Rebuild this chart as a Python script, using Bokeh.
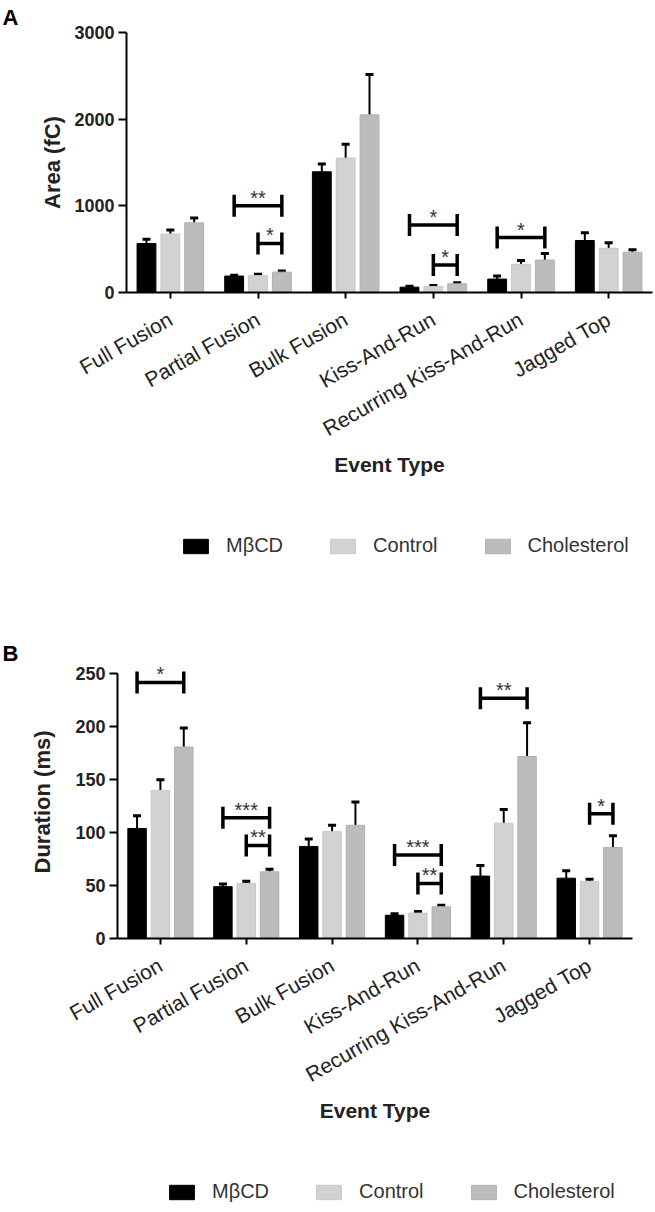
import math
from bokeh.plotting import figure
from bokeh.models import (ColumnDataSource, Whisker, TeeHead, Legend, LegendItem,
                          FixedTicker, LabelSet, Range1d)
from bokeh.core.properties import value
from bokeh.embed import file_html
from bokeh.resources import INLINE

# ---------------- data ----------------
categories = ["Full Fusion", "Partial Fusion", "Bulk Fusion", "Kiss-And-Run",
              "Recurring Kiss-And-Run", "Jagged Top"]
series = ["M\u03b2CD", "Control", "Cholesterol"]

area_ticks = [0, 1000, 2000, 3000]
area_mbcd = [565, 190, 1393, 62, 155, 600]
area_mbcd_err = [50, 10, 90, 10, 35, 90]
area_control = [675, 195, 1551, 70, 325, 510]
area_control_err = [45, 15, 160, 12, 45, 65]
area_chol = [804, 235, 2050, 100, 375, 465]
area_chol_err = [55, 12, 465, 12, 75, 28]

area_sig_cat = [1, 1, 3, 3, 4]
area_sig_from = [0, 1, 0, 1, 0]
area_sig_to = [2, 2, 2, 2, 2]
area_sig_y = [1000, 566, 780, 317, 634]
area_sig_text = ["**", "*", "*", "*", "*"]

dur_ticks = [0, 50, 100, 150, 200, 250]
dur_mbcd = [104, 49, 87, 22, 59, 57]
dur_mbcd_err = [12, 2.5, 7, 1.5, 10, 7]
dur_control = [140, 52, 101, 24, 109, 54]
dur_control_err = [10, 2, 6, 1.5, 13, 2]
dur_chol = [181, 63, 107, 30, 172, 86]
dur_chol_err = [18, 2.5, 22, 1.5, 32, 11]

dur_sig_cat = [0, 1, 1, 3, 3, 4, 5]
dur_sig_from = [0, 0, 1, 0, 1, 0, 1]
dur_sig_to = [2, 2, 2, 2, 2, 2, 2]
dur_sig_y = [242, 114, 88, 79, 52, 227, 118]
dur_sig_text = ["*", "***", "**", "***", "**", "**", "*"]

# ---------------- style ----------------
FONT = "Liberation Sans"
FILLS = ["#000000", "#d2d2d2", "#bcbcbc"]
LINES = ["#000000", "#c8c8c8", "#b0b0b0"]
OFFS = [-0.272, 0.0, 0.272]
BAR_W = 0.215
FIG_W = 655


def make_panel(letter, ylabel, ylabel_standoff, yticks, yend, vals, errs, sig,
               fig_top, fig_h, fl, fr, ft, fb, letter_offset, letter_standoff,
               xlabel_standoff):
    ymax = yticks[-1]
    pxy = (fb - ft) / float(ymax)
    frame_top = fb - yend * pxy
    p = figure(width=FIG_W, height=fig_h,
               x_range=Range1d(-0.5, 5.5), y_range=Range1d(0, yend),
               output_backend="svg", toolbar_location=None,
               min_border_left=fl, min_border_right=FIG_W - fr,
               min_border_top=int(round(frame_top - fig_top)),
               min_border_bottom=fig_top + fig_h - fb)
    p.grid.visible = False
    p.outline_line_color = None
    p.background_fill_color = "white"
    p.border_fill_color = "white"

    # panel letter as the plot title
    p.title.text = letter
    p.title.align = "left"
    p.title.offset = letter_offset
    p.title.standoff = letter_standoff
    p.title.text_font = FONT
    p.title.text_font_size = "22px"
    p.title.text_font_style = "bold"
    p.title.text_color = "black"

    for s in range(3):
        xs = [i + OFFS[s] for i in range(len(categories))]
        p.vbar(x=xs, top=vals[s], width=BAR_W, fill_color=FILLS[s],
               line_color=LINES[s], line_width=1)
        src = ColumnDataSource(dict(x=xs, lo=vals[s],
                                    hi=[v + e for v, e in zip(vals[s], errs[s])]))
        w = Whisker(base="x", lower="lo", upper="hi", source=src,
                    line_color="black", line_width=2, lower_head=None,
                    upper_head=TeeHead(size=8, line_width=3, line_color="black"))
        p.add_layout(w)

    cat, fr_, to_, ys, txt = sig
    x0 = [c + OFFS[a] for c, a in zip(cat, fr_)]
    x1 = [c + OFFS[b] for c, b in zip(cat, to_)]
    p.segment(x0=x0, y0=ys, x1=x1, y1=ys, line_color="black", line_width=3.5)
    p.scatter(x=x0 + x1, y=ys + ys, marker="dash", angle=math.pi / 2, size=22,
              line_color="black", line_width=3.5)
    lsrc = ColumnDataSource(dict(x=[(a + b) / 2 for a, b in zip(x0, x1)], y=ys, t=txt))
    p.add_layout(LabelSet(x="x", y="y", text="t", source=lsrc, text_align="center",
                          text_baseline="alphabetic", y_offset=1,
                          text_font=value(FONT), text_font_size="20px",
                          text_color="#333333"))

    # axes
    p.xaxis.ticker = FixedTicker(ticks=list(range(len(categories))))
    p.xaxis.major_label_overrides = {i: c for i, c in enumerate(categories)}
    p.xaxis.major_label_orientation = 0.52
    p.xaxis.major_label_text_font = FONT
    p.xaxis.major_label_text_font_size = "21px"
    p.xaxis.major_label_text_color = "#222222"
    p.xaxis.major_label_standoff = 19
    p.xaxis.axis_label = "Event Type"
    p.xaxis.axis_label_text_font = FONT
    p.xaxis.axis_label_text_font_size = "21px"
    p.xaxis.axis_label_text_font_style = "bold"
    p.xaxis.axis_label_text_color = "#222222"
    p.xaxis.axis_label_standoff = xlabel_standoff
    p.yaxis.ticker = FixedTicker(ticks=yticks)
    p.yaxis.bounds = (0, ymax)
    p.yaxis.major_label_text_font = FONT
    p.yaxis.major_label_text_font_size = "18px"
    p.yaxis.major_label_text_font_style = "bold"
    p.yaxis.major_label_text_color = "#222222"
    p.yaxis.major_label_standoff = 4
    p.yaxis.axis_label = ylabel
    p.yaxis.axis_label_text_font = FONT
    p.yaxis.axis_label_text_font_size = "22px"
    p.yaxis.axis_label_text_font_style = "bold"
    p.yaxis.axis_label_text_color = "#222222"
    p.yaxis.axis_label_standoff = ylabel_standoff
    for ax in (p.xaxis, p.yaxis):
        ax.axis_line_width = 2
        ax.axis_line_color = "black"
        ax.major_tick_line_width = 2
        ax.major_tick_line_color = "black"
        ax.major_tick_in = 0
        ax.minor_tick_line_color = None
    p.xaxis.major_tick_out = 6
    p.yaxis.major_tick_out = 8
    return p


def make_legend(height, vals, leg_x, leg_y):
    p = figure(width=FIG_W, height=height, x_range=Range1d(-0.5, 5.5),
               y_range=Range1d(0, 1),
               output_backend="svg", toolbar_location=None,
               x_axis_location=None, y_axis_location=None, min_border=0)
    p.grid.visible = False
    p.outline_line_color = None
    p.background_fill_color = "white"
    p.border_fill_color = "white"
    rs = []
    for s in range(3):
        r = p.vbar(x=list(range(len(categories))), top=vals[s], width=BAR_W,
                   fill_color=FILLS[s], line_color=LINES[s])
        r.visible = False
        rs.append(r)
    legend = Legend(items=[LegendItem(label=series[s], renderers=[rs[s]])
                           for s in range(3)],
                    location=(leg_x, leg_y), orientation="horizontal",
                    glyph_width=31, glyph_height=18, label_standoff=15, spacing=44,
                    padding=0, margin=0, border_line_color=None,
                    background_fill_alpha=0, label_height=18,
                    inactive_fill_alpha=0,
                    label_text_font=FONT, label_text_font_size="20px",
                    label_text_color="#333333")
    p.add_layout(legend)
    return p


area_vals = [area_mbcd, area_control, area_chol]
dur_vals = [dur_mbcd, dur_control, dur_chol]

pA = make_panel("A", "Area (fC)", 6, area_ticks, 3000, area_vals,
                [area_mbcd_err, area_control_err, area_chol_err],
                (area_sig_cat, area_sig_from, area_sig_to, area_sig_y, area_sig_text),
                fig_top=0, fig_h=525, fl=126, fr=652, ft=27, fb=292,
                letter_offset=-124, letter_standoff=5, xlabel_standoff=0)
lA = make_legend(50, area_vals, 180, 18)

pB = make_panel("B", "Duration (ms)", 17, dur_ticks, 258, dur_vals,
                [dur_mbcd_err, dur_control_err, dur_chol_err],
                (dur_sig_cat, dur_sig_from, dur_sig_to, dur_sig_y, dur_sig_text),
                fig_top=575, fig_h=595, fl=117, fr=632, ft=673, fb=938,
                letter_offset=-115, letter_standoff=0, xlabel_standoff=0)
lB = make_legend(42, dur_vals, 166, 9)

open("out.html", "w").write(file_html([pA, lA, pB, lB], INLINE))
